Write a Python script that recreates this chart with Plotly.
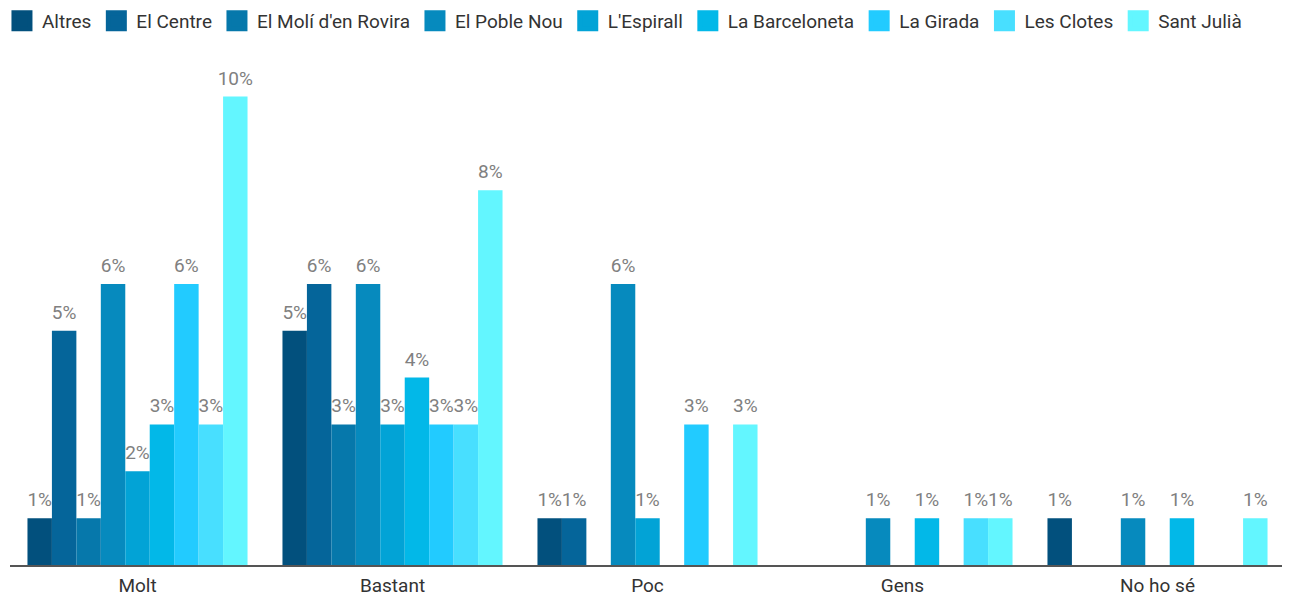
"""Valoració per barri - barres agrupades"""
import plotly.graph_objects as go

categories = ['Molt', 'Bastant', 'Poc', 'Gens', 'No ho sé']

altres = [1, 5, 1, None, 1]
el_centre = [5, 6, 1, None, None]
el_moli = [1, 3, None, None, None]
el_poble_nou = [6, 6, 6, 1, 1]
l_espirall = [2, 3, 1, None, None]
la_barceloneta = [3, 4, None, 1, 1]
la_girada = [6, 3, 3, None, None]
les_clotes = [3, 3, None, 1, None]
sant_julia = [10, 8, 3, 1, 1]

series = [
    ('Altres', altres, '#02507d'),
    ('El Centre', el_centre, '#05659a'),
    ('El Molí d\'en Rovira', el_moli, '#0678ab'),
    ('El Poble Nou', el_poble_nou, '#068abe'),
    ('L\'Espirall', l_espirall, '#02a3d6'),
    ('La Barceloneta', la_barceloneta, '#02b8e8'),
    ('La Girada', la_girada, '#22cbff'),
    ('Les Clotes', les_clotes, '#48dfff'),
    ('Sant Julià', sant_julia, '#63f6ff'),
]

FONT = 'Roboto'

fig = go.Figure()

for name, values, color in series:
    fig.add_trace(go.Bar(
        x=categories,
        y=values,
        name=name,
        offsetgroup=name,
        marker=dict(color=color, line=dict(width=0)),
        showlegend=False,
    ))
    # etiquetes de percentatge, alineades amb cada barra
    fig.add_trace(go.Scatter(
        x=categories,
        y=values,
        name=name,
        offsetgroup=name,
        mode='markers+text',
        texttemplate='%{y:.0f}%',
        textposition='top center',
        textfont=dict(size=19, color='#808080', family=FONT),
        marker=dict(size=10, color='rgba(0,0,0,0)'),
        cliponaxis=False,
        showlegend=False,
        hoverinfo='skip',
    ))
    # entrada de llegenda amb quadrat gran
    fig.add_trace(go.Scatter(
        x=[None], y=[None],
        mode='markers',
        name=name,
        offsetgroup=name,
        marker=dict(symbol='square', size=20, color=color,
                    line=dict(width=5, color=color)),
        showlegend=True,
    ))

fig.update_layout(
    barmode='group',
    bargap=0.137,
    bargroupgap=0,
    scattermode='group',
    scattergap=0.137,
    plot_bgcolor='white',
    paper_bgcolor='white',
    font=dict(family=FONT, color='#333333', size=19),
    width=1290,
    height=599,
    margin=dict(l=2, r=13, t=52, b=42, autoexpand=False),
    legend=dict(
        orientation='h',
        x=-0.0063, xref='paper', xanchor='left',
        y=1.0772, yref='paper', yanchor='middle',
        font=dict(size=19, color='#333333', family=FONT),
        itemwidth=30,
        tracegroupgap=0,
    ),
    xaxis=dict(
        showline=True,
        linecolor='#555555',
        linewidth=1.5,
        ticks='',
        ticklabelstandoff=2,
        showgrid=False,
        tickfont=dict(size=19, color='#333333', family=FONT),
    ),
    yaxis=dict(
        range=[0, 10.78],
        visible=False,
        showgrid=False,
        zeroline=False,
    ),
)

fig.write_html('out.html')
